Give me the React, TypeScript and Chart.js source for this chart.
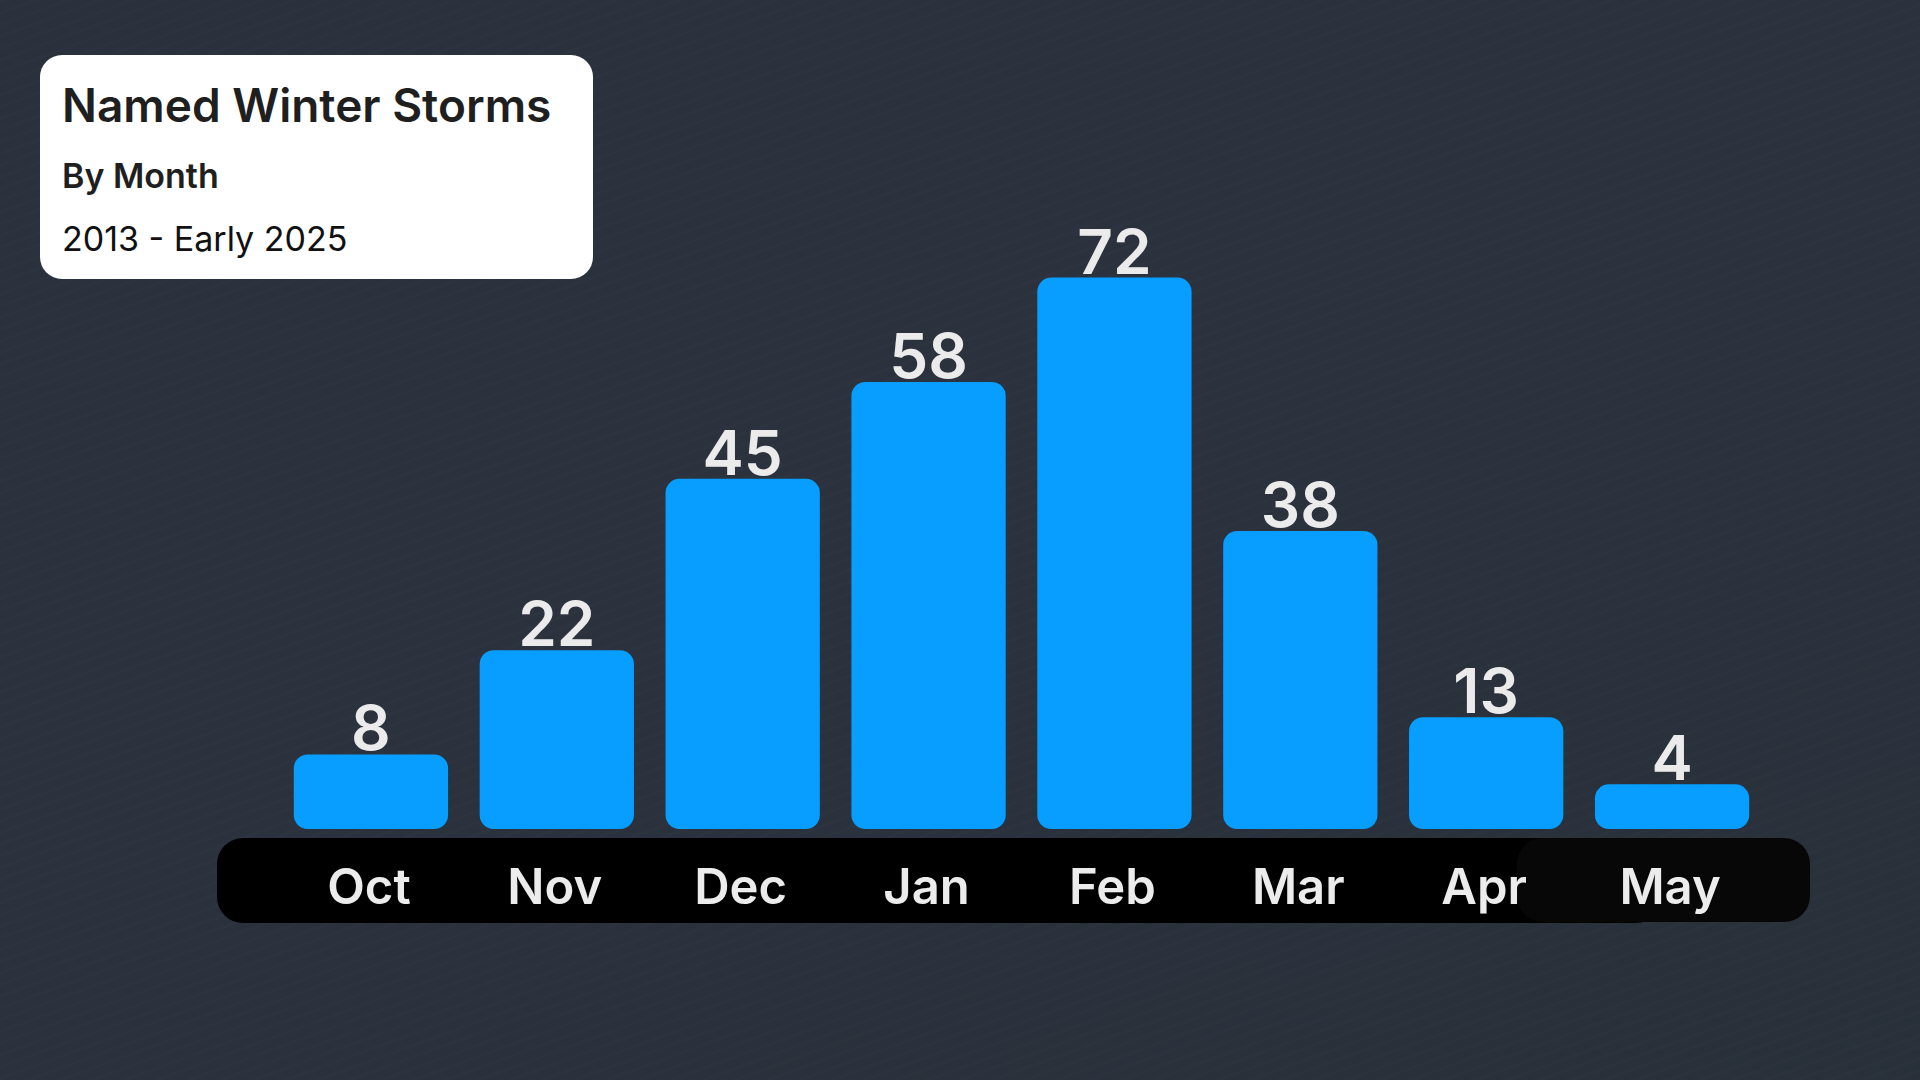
import React, { useEffect, useRef } from "react";
import { Chart, registerables } from "chart.js";

Chart.register(...registerables);

const months = ["Oct", "Nov", "Dec", "Jan", "Feb", "Mar", "Apr", "May"];
const storms = [8, 22, 45, 58, 72, 38, 13, 4];
const titleLines = ["Named Winter Storms", "By Month", "2013 - Early 2025"];

const FONT = "Inter, 'Noto Sans', sans-serif";

const decorPlugin = {
  id: "decor",
  beforeDatasetsDraw(chart: any) {
    const { ctx } = chart;
    ctx.save();
    // category band
    ctx.fillStyle = "#000000";
    ctx.beginPath();
    ctx.roundRect(217, 838, 1445, 85, 26);
    ctx.fill();
    ctx.fillStyle = "#070707";
    ctx.beginPath();
    ctx.roundRect(1517, 838, 293, 84, 26);
    ctx.fill();
    ctx.restore();
  },
  afterDatasetsDraw(chart: any) {
    const { ctx } = chart;
    const meta = chart.getDatasetMeta(0);
    const xScale = chart.scales.x;
    ctx.save();
    ctx.textAlign = "center";
    ctx.textBaseline = "alphabetic";
    ctx.fillStyle = "#ebebeb";
    ctx.font = `600 62px ${FONT}`;
    meta.data.forEach((bar: any, i: number) => {
      ctx.fillText(String(storms[i]), bar.x, bar.y - 4);
    });
    ctx.fillStyle = "#ececec";
    ctx.font = `600 49px ${FONT}`;
    months.forEach((m, i) => {
      ctx.fillText(m, xScale.getPixelForValue(i) - 2, 904);
    });
    ctx.restore();
  },
};

export default function App() {
  const ref = useRef<HTMLCanvasElement>(null);
  useEffect(() => {
    if (!ref.current) return;
    const chart = new Chart(ref.current, {
      type: "bar",
      data: {
        labels: months,
        datasets: [
          {
            data: storms,
            base: -2,
            backgroundColor: "#089EFF",
            borderRadius: 14,
            borderSkipped: false,
            categoryPercentage: 1,
            barPercentage: 0.83,
          } as any,
        ],
      },
      options: {
        animation: false,
        responsive: false,
        maintainAspectRatio: false,
        layout: { padding: { left: 278, right: 155, top: 218, bottom: 251 } },
        plugins: { legend: { display: false }, tooltip: { enabled: false }, title: { display: false } },
        scales: {
          x: { display: false, grid: { display: false } },
          y: { display: false, min: -2, max: 80, grid: { display: false } },
        },
      },
      plugins: [decorPlugin],
    });
    return () => chart.destroy();
  }, []);

  return (
    <div
      style={{
        position: "fixed",
        left: 0,
        top: 0,
        width: 1920,
        height: 1080,
        overflow: "hidden",
        backgroundColor: "#29303b",
        backgroundImage:
          "repeating-linear-gradient(160deg, rgba(255,255,255,0.012) 0px, rgba(255,255,255,0.012) 3px, rgba(0,0,0,0) 3px, rgba(0,0,0,0) 11px), linear-gradient(160deg, #2a313c 0%, #2b323d 45%, #28303a 100%)",
      }}
    >
      <canvas ref={ref} width={1920} height={1080} style={{ position: "absolute", left: 0, top: 0, width: 1920, height: 1080 }} />
      <div
        style={{
          position: "absolute",
          left: 40,
          top: 55,
          width: 553,
          height: 224,
          background: "#ffffff",
          borderRadius: 22,
          fontFamily: FONT,
          color: "#1f1f1f",
        }}
      >
        <div style={{ position: "absolute", left: 22, top: 50, fontSize: 46, fontWeight: 600, lineHeight: 0, whiteSpace: "nowrap" }}>
          {titleLines[0]}
        </div>
        <div style={{ position: "absolute", left: 22, top: 121, fontSize: 34, fontWeight: 600, lineHeight: 0, whiteSpace: "nowrap" }}>
          {titleLines[1]}
        </div>
        <div style={{ position: "absolute", left: 22, top: 184, fontSize: 34, fontWeight: 400, lineHeight: 0, whiteSpace: "nowrap", color: "#111" }}>
          {titleLines[2]}
        </div>
      </div>
    </div>
  );
}
